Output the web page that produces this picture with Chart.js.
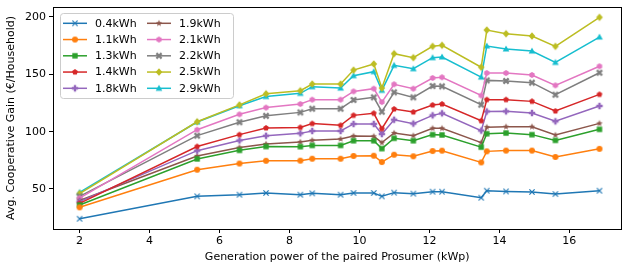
<!DOCTYPE html>
<html>
<head>
<meta charset="utf-8">
<script src="https://cdn.jsdelivr.net/npm/chart.js@4/dist/chart.umd.min.js"></script>
<style>
  html, body { margin: 0; padding: 0; background: #fff; }
  #wrap { width: 622px; height: 269px; }
</style>
</head>
<body>
<div id="wrap"><canvas id="gainChart" width="622" height="269"></canvas></div>
<script>
// Generation power of the paired prosumer (kWp)
const genPower = [2, 5.36, 6.57, 7.33, 8.31, 8.65, 9.46, 9.83, 10.41, 10.64, 10.99, 11.54, 12.09, 12.36, 13.48, 13.64, 14.19, 14.93, 15.6, 16.86];

const labels = ["0.4kWh", "1.1kWh", "1.3kWh", "1.4kWh", "1.8kWh", "1.9kWh", "2.1kWh", "2.2kWh", "2.5kWh", "2.9kWh"];

// Avg. cooperative gain per series
const g04 = [24, 43.6, 45, 46.5, 45, 46.2, 45, 46.5, 46.5, 43.6, 46.8, 45.9, 47.6, 47.6, 42.4, 48.5, 47.9, 47.4, 45.6, 48.5];
const g11 = [34, 66.8, 72.2, 74.6, 74.7, 76.4, 76.4, 78.8, 79, 73.5, 79.9, 78.5, 83.1, 83.4, 73.2, 82.8, 83.5, 83.5, 77.9, 85];
const g13 = [36, 76.2, 83.7, 87, 86.9, 88, 88, 92.1, 92.1, 85.2, 94.2, 92.1, 97.4, 97.1, 86.5, 98.2, 98.8, 97.4, 92.4, 102];
const g14 = [37.5, 87, 97.4, 103.2, 103.7, 107, 105.5, 114.2, 116, 102.6, 119.7, 117.1, 123.2, 124.1, 109.5, 127.9, 127.9, 126.4, 118, 132.5];
const g18 = [39, 83.4, 92.3, 96.4, 98.5, 100.6, 100.6, 106.7, 106.7, 97.9, 110.4, 107, 114.2, 116, 100.9, 117.6, 117.7, 116.3, 109, 122.4];
const g19 = [40, 78.8, 86.2, 89.2, 91, 92.4, 93.6, 96.2, 95.9, 90.4, 98.8, 96.5, 102.9, 102.9, 90.4, 103.9, 104.3, 104.3, 97.1, 107.2];
const g21 = [42, 101.7, 115.1, 121, 124.1, 127.9, 127.9, 135.1, 137.5, 125.8, 141.3, 137.5, 146.8, 147.4, 131.5, 151.1, 151.1, 149.4, 140.4, 157];
const g22 = [43.5, 96.5, 108.2, 113.8, 116.8, 120, 120, 127.6, 129.9, 117.4, 134.3, 129.9, 139.8, 139.5, 123.5, 144.7, 144.2, 142.7, 132.2, 151.4];
const g25 = [46, 108.6, 123.3, 133, 135.7, 141.5, 141.5, 153.7, 159, 138, 168, 164.5, 174.4, 175.3, 156.2, 188.6, 185.4, 183.4, 174.4, 199.7];
const g29 = [47, 108.4, 122.6, 130.6, 133.4, 139.2, 138, 148.8, 152.3, 136, 157.8, 154.9, 164.5, 165.1, 147.6, 174.7, 172.1, 170.3, 160.4, 182.5];

const xTicks = [2, 4, 6, 8, 10, 12, 14, 16];
const yTicks = [50, 100, 150, 200];

const colors = ["#1f77b4", "#ff7f0e", "#2ca02c", "#d62728", "#9467bd", "#8c564b", "#e377c2", "#7f7f7f", "#bcbd22", "#17becf"];
const shapes = ["x", "o", "s", "p", "P", "*", "h", "X", "D", "^"];
const series = [g04, g11, g13, g14, g18, g19, g21, g22, g25, g29];

// small canvases used as matplotlib-like markers
function polygon(ctx, pts) {
  ctx.beginPath();
  pts.forEach(function (p, i) { i ? ctx.lineTo(p[0], p[1]) : ctx.moveTo(p[0], p[1]); });
  ctx.closePath();
  ctx.fill();
}
function regular(n, r, c, rot) {
  const pts = [];
  for (let i = 0; i < n; i++) {
    const a = rot + i * 2 * Math.PI / n;
    pts.push([c + r * Math.cos(a), c + r * Math.sin(a)]);
  }
  return pts;
}
function makeMarker(shape, color) {
  const s = 10, c = 5;
  const cv = document.createElement("canvas");
  cv.width = s; cv.height = s;
  const ctx = cv.getContext("2d");
  ctx.fillStyle = color;
  ctx.strokeStyle = color;
  if (shape === "x") {
    ctx.lineWidth = 1.2;
    ctx.beginPath();
    ctx.moveTo(c - 2.6, c - 2.6); ctx.lineTo(c + 2.6, c + 2.6);
    ctx.moveTo(c + 2.6, c - 2.6); ctx.lineTo(c - 2.6, c + 2.6);
    ctx.stroke();
  } else if (shape === "o") {
    ctx.beginPath(); ctx.arc(c, c, 3, 0, 2 * Math.PI); ctx.fill();
  } else if (shape === "s") {
    ctx.fillRect(c - 2.7, c - 2.7, 5.4, 5.4);
  } else if (shape === "p") {
    polygon(ctx, regular(5, 3, c, -Math.PI / 2));
  } else if (shape === "P") {
    const a = 1.2, b = 3.2;
    polygon(ctx, [[c - a, c - b], [c + a, c - b], [c + a, c - a], [c + b, c - a], [c + b, c + a], [c + a, c + a],
      [c + a, c + b], [c - a, c + b], [c - a, c + a], [c - b, c + a], [c - b, c - a], [c - a, c - a]]);
  } else if (shape === "*") {
    const pts = [];
    for (let i = 0; i < 10; i++) {
      const r = i % 2 ? 1.4 : 3.4;
      const a = -Math.PI / 2 + i * Math.PI / 5;
      pts.push([c + r * Math.cos(a), c + r * Math.sin(a)]);
    }
    polygon(ctx, pts);
  } else if (shape === "h") {
    polygon(ctx, regular(6, 3.1, c, -Math.PI / 2));
  } else if (shape === "X") {
    ctx.lineWidth = 2.2;
    ctx.beginPath();
    ctx.moveTo(c - 2.6, c - 2.6); ctx.lineTo(c + 2.6, c + 2.6);
    ctx.moveTo(c + 2.6, c - 2.6); ctx.lineTo(c - 2.6, c + 2.6);
    ctx.stroke();
  } else if (shape === "D") {
    polygon(ctx, [[c, c - 3.8], [c + 3.3, c], [c, c + 3.8], [c - 3.3, c]]);
  } else if (shape === "^") {
    polygon(ctx, [[c, c - 3.5], [c + 3.3, c + 2.5], [c - 3.3, c + 2.5]]);
  }
  return cv;
}

const markers = shapes.map(function (s, i) { return makeMarker(s, colors[i]); });

const datasets = series.map(function (vals, i) {
  return {
    label: labels[i],
    data: vals.map(function (v, j) { return { x: genPower[j], y: v }; }),
    borderColor: colors[i],
    backgroundColor: colors[i],
    borderWidth: 1.5,
    pointStyle: markers[i],
    pointRadius: 3,
    tension: 0,
  };
});

const FONT = "DejaVu Sans";

// frame around the plot + legend box in the upper left
const framePlugin = {
  id: "frame",
  afterDatasetsDraw(chart) {
    const a = chart.chartArea, ctx = chart.ctx;
    ctx.save();
    ctx.strokeStyle = "#000";
    ctx.lineWidth = 1;
    ctx.strokeRect(Math.round(a.left) + 0.5, Math.round(a.top) + 0.5, Math.round(a.right - a.left) - 1, Math.round(a.bottom - a.top));

    // legend
    const bx = 60, by = 13, bw = 173, bh = 85;
    ctx.fillStyle = "rgba(255,255,255,0.8)";
    ctx.strokeStyle = "#cccccc";
    ctx.beginPath();
    ctx.roundRect(bx + 0.5, by + 0.5, bw, bh, 3);
    ctx.fill();
    ctx.stroke();
    ctx.font = "11px " + FONT;
    ctx.textBaseline = "middle";
    for (let i = 0; i < labels.length; i++) {
      const col = i < 5 ? 0 : 1;
      const row = i % 5;
      const x0 = col ? 147 : 63;
      const y0 = 23.3 + row * 16.25;
      ctx.strokeStyle = colors[i];
      ctx.lineWidth = 1.5;
      ctx.beginPath();
      ctx.moveTo(x0, y0);
      ctx.lineTo(x0 + 24, y0);
      ctx.stroke();
      ctx.drawImage(markers[i], x0 + 12 - 5, y0 - 5);
      ctx.fillStyle = "#000";
      ctx.fillText(labels[i], x0 + 32, y0 + 0.5);
    }
    ctx.restore();
  },
};

new Chart(document.getElementById("gainChart"), {
  type: "line",
  data: { datasets: datasets },
  options: {
    responsive: false,
    animation: false,
    layout: { autoPadding: false, padding: { top: 7, right: 0.5, left: 0, bottom: 0 } },
    plugins: { legend: { display: false }, tooltip: { enabled: false } },
    scales: {
      x: {
        type: "linear",
        min: 1.24,
        max: 17.49,
        afterBuildTicks: function (scale) { scale.ticks = xTicks.map(function (v) { return { value: v }; }); },
        afterFit: function (scale) { scale.height = 40; scale.paddingLeft = 0; scale.paddingRight = 0; },
        grid: { display: true, drawOnChartArea: false, drawTicks: true, tickLength: 4, color: "#000" },
        border: { display: true, color: "#000", width: 1 },
        ticks: { color: "#000", font: { family: FONT, size: 11 }, padding: 2, maxRotation: 0 },
        title: { display: true, text: "Generation power of the paired Prosumer (kWp)", color: "#000", font: { family: FONT, size: 11 }, padding: { top: 0, bottom: 5 } },
      },
      y: {
        min: 15.1,
        max: 208.7,
        afterBuildTicks: function (scale) { scale.ticks = yTicks.map(function (v) { return { value: v }; }); },
        afterFit: function (scale) { scale.width = 53; scale.paddingTop = 0; scale.paddingBottom = 0; },
        grid: { display: true, drawOnChartArea: false, drawTicks: true, tickLength: 4, color: "#000" },
        border: { display: true, color: "#000", width: 1 },
        ticks: { color: "#000", font: { family: FONT, size: 11 }, padding: 3 },
        title: { display: true, text: "Avg. Cooperative Gain (€/Household)", color: "#000", font: { family: FONT, size: 11 }, padding: { top: 5, bottom: 0 } },
      },
    },
  },
  plugins: [framePlugin],
});
</script>
</body>
</html>
